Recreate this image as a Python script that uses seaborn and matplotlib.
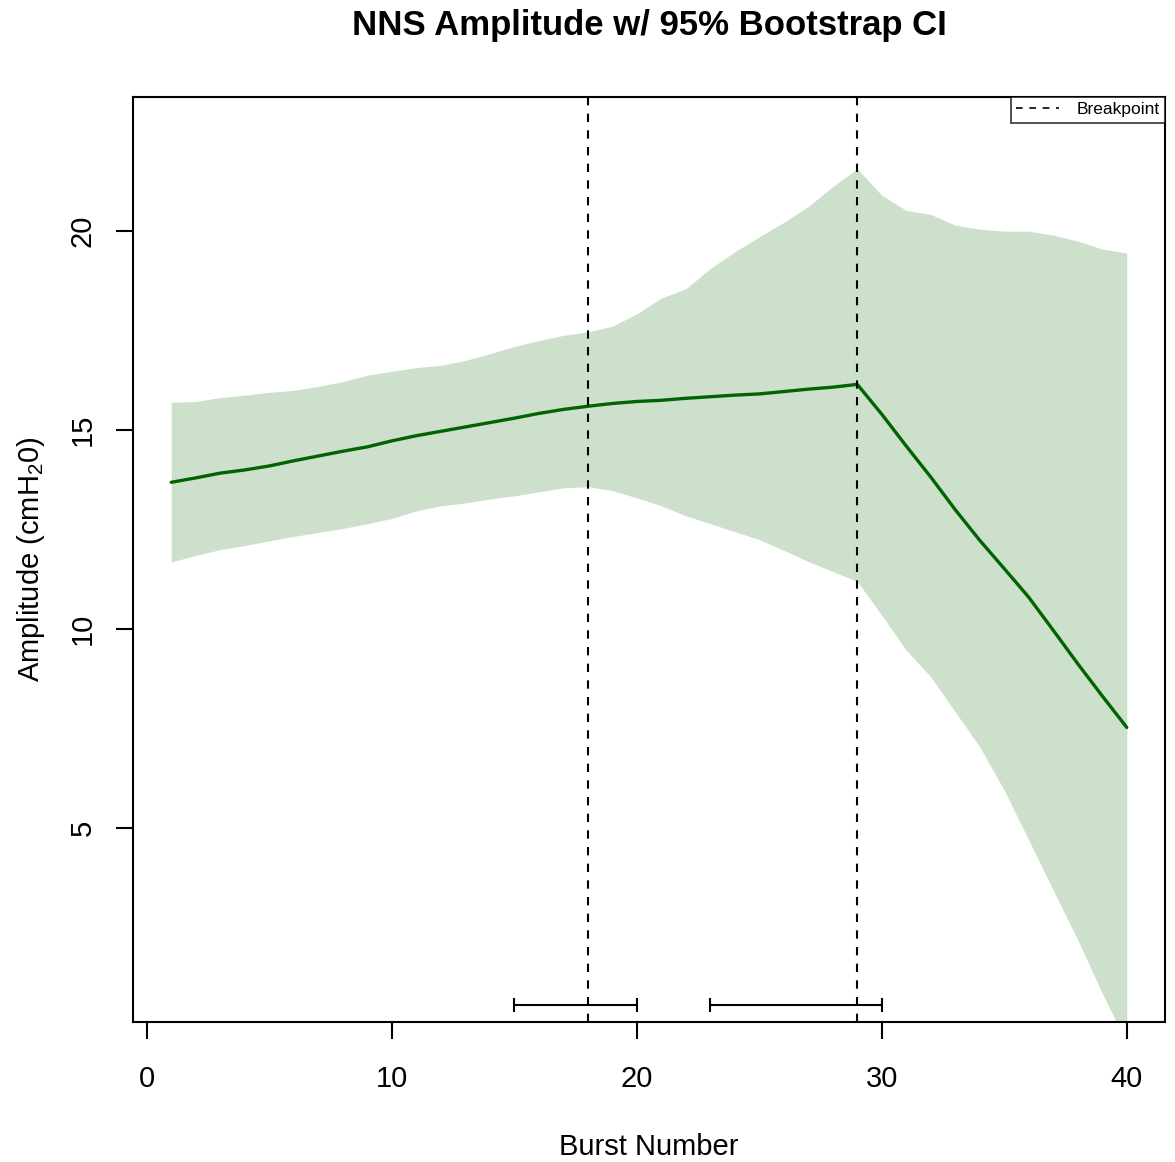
import numpy as np
import pandas as pd
import seaborn as sns
import matplotlib
matplotlib.use("Agg")
import matplotlib.pyplot as plt
from matplotlib.lines import Line2D

# data
burst = list(range(1, 41))
amp_mean = [13.69, 13.80, 13.92, 14.00, 14.10, 14.23, 14.35, 14.47, 14.58, 14.73,
            14.86, 14.97, 15.08, 15.19, 15.30, 15.42, 15.52, 15.60, 15.67, 15.72,
            15.75, 15.80, 15.84, 15.88, 15.91, 15.97, 16.03, 16.08, 16.15, 15.40,
            14.60, 13.82, 13.00, 12.23, 11.52, 10.80, 9.97, 9.13, 8.32, 7.53]
ci_upper = [15.70, 15.72, 15.82, 15.88, 15.95, 16.00, 16.10, 16.22, 16.38, 16.48,
            16.57, 16.63, 16.75, 16.92, 17.10, 17.25, 17.38, 17.47, 17.61, 17.92,
            18.32, 18.55, 19.06, 19.48, 19.86, 20.22, 20.62, 21.12, 21.57, 20.90,
            20.52, 20.42, 20.15, 20.05, 20.00, 20.00, 19.90, 19.75, 19.55, 19.45]
ci_lower = [11.69, 11.85, 12.00, 12.10, 12.22, 12.33, 12.43, 12.53, 12.65, 12.78,
            12.97, 13.10, 13.17, 13.27, 13.35, 13.45, 13.55, 13.58, 13.48, 13.30,
            13.10, 12.85, 12.65, 12.45, 12.25, 11.98, 11.70, 11.45, 11.20, 10.35,
            9.47, 8.80, 7.92, 7.04, 5.95, 4.70, 3.44, 2.19, 0.85, -0.40]
breakpoints = [18, 29]
bp_ci_low = [15, 23]
bp_ci_high = [20, 30]

df = pd.DataFrame({"burst": burst, "amp": amp_mean})

sns.set_style("white")
plt.rcParams['font.family'] = ['Liberation Sans', 'DejaVu Sans']
plt.rcParams['mathtext.fontset'] = 'custom'
plt.rcParams['mathtext.rm'] = 'Liberation Sans'
plt.rcParams['mathtext.it'] = 'Liberation Sans'
plt.rcParams['text.color'] = 'black'
plt.rcParams['axes.labelcolor'] = 'black'
plt.rcParams['xtick.color'] = 'black'
plt.rcParams['ytick.color'] = 'black'

fig = plt.figure(figsize=(11.75, 11.62), dpi=100)
ax = fig.add_axes([0.1132, 0.1205, 0.8783, 0.796])

# bootstrap band
ax.fill_between(burst, ci_lower, ci_upper, color="#cce0cc", linewidth=0, zorder=1)

# mean amplitude
sns.lineplot(data=df, x="burst", y="amp", ax=ax, color="#006400", linewidth=2.4, zorder=3)

# breakpoints
for bp in breakpoints:
    ax.axvline(bp, color="black", linestyle=(0, (4, 4)), linewidth=1.5, zorder=4)

# breakpoint confidence intervals
for bp, lo, hi in zip(breakpoints, bp_ci_low, bp_ci_high):
    ax.errorbar(bp, 0.55, xerr=[[bp - lo], [hi - bp]], fmt="none", ecolor="black",
                elinewidth=1.5, capsize=5, capthick=1.5, zorder=5)

ax.set_xlim(-0.56, 41.56)
ax.set_ylim(0.13, 23.37)
ax.set_xticks([0, 10, 20, 30, 40])
ax.set_yticks([5, 10, 15, 20])

for s in ax.spines.values():
    s.set_color("black")
    s.set_linewidth(1.5)

ax.tick_params(axis="both", which="both", direction="out", length=12, width=1.5,
               color="black", labelcolor="black", labelsize=21, bottom=True, left=True)
ax.tick_params(axis="x", pad=19)
ax.tick_params(axis="y", pad=14)
for lab in ax.get_yticklabels():
    lab.set_rotation(90)
    lab.set_va("center")

ax.set_xlabel("Burst Number", fontsize=21, labelpad=29, color="black")
ax.set_ylabel(r"Amplitude (cmH$_2$0)", fontsize=21, labelpad=16, color="black")
ax.set_title("NNS Amplitude w/ 95% Bootstrap CI", fontsize=25, fontweight="bold",
             pad=45, color="black")

handle = Line2D([0], [0], color="black", linestyle=(0, (4, 4)), linewidth=1.2)
leg = ax.legend([handle], ["Breakpoint"], loc="upper right", fontsize=12.5,
                frameon=True, fancybox=False, borderaxespad=0, handlelength=2.5,
                borderpad=0.3, handletextpad=1.0)
leg.get_frame().set_edgecolor("black")
leg.get_frame().set_linewidth(1.2)

fig.savefig("out.png", dpi=100)
